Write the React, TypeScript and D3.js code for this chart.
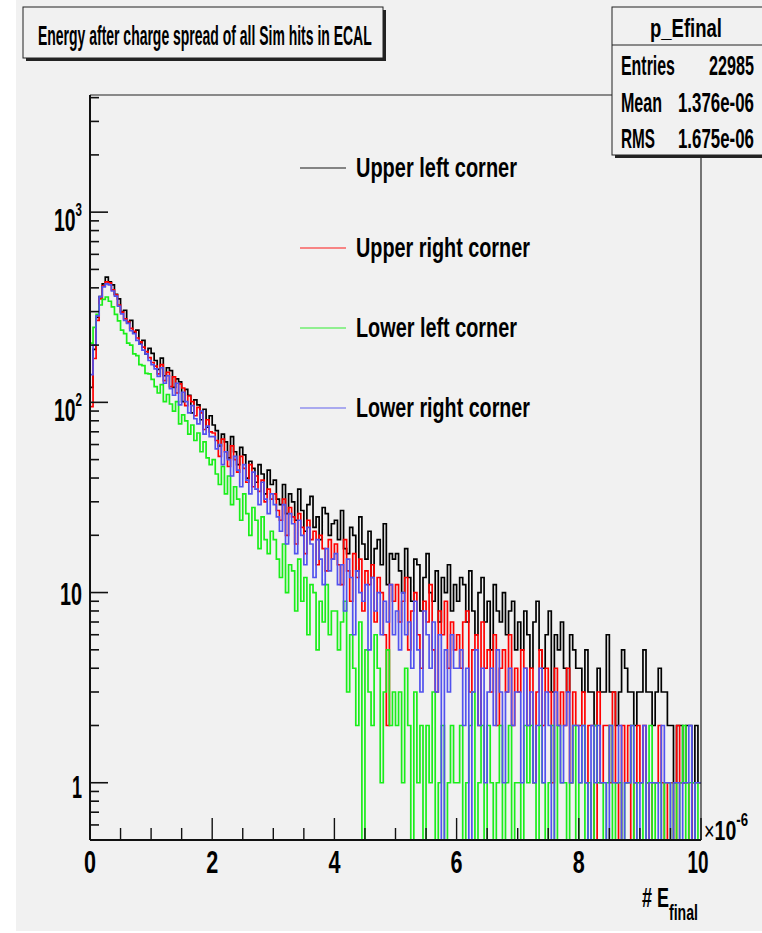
import React from 'react';
import * as d3 from 'd3';

// ---------------- DATA ----------------
const TITLE = 'Energy after charge spread of all Sim hits in ECAL';
const STATS_NAME = 'p_Efinal';
const STATS_LABELS = ['Entries', 'Mean', 'RMS'];
const STATS_VALUES = ['22985', '1.376e-06', '1.675e-06'];
const X_TICK_LABELS = [0, 2, 4, 6, 8, 10];
const Y_DECADES = [1, 10, 100, 1000];
const SERIES_NAMES = ['Upper left corner', 'Upper right corner', 'Lower left corner', 'Lower right corner'];
const SERIES_COLORS = ['#000000', '#ff0000', '#1aee1a', '#5252ee'];
const BIN_WIDTH = 0.05; // in units of 1e-6
const X_MIN = 0;
const X_MAX = 10;
const Y_MIN = 0.5;
const Y_MAX = 4130;

const upperLeft = [
  120, 190, 280, 360, 420, 455, 430, 415, 370, 350, 300, 305, 262, 270, 232, 240, 205, 212, 180, 192,
  181, 166, 149, 171, 138, 152, 147, 120, 133, 128, 101, 117, 109, 88, 103, 97, 81, 92, 74, 85,
  76, 71, 59, 68, 62, 51, 66, 55, 47, 58, 53, 40, 49, 45, 38, 47, 42, 33, 44, 37,
  39, 31, 29, 37, 26, 33, 30, 24, 35, 27, 21, 29, 32, 22, 25, 19, 28, 26, 20, 23,
  24, 19, 27, 17, 16, 22, 20, 13, 25, 18, 15, 21, 12, 17, 19, 14, 23, 11, 16, 15,
  16, 13, 10, 17, 12, 9, 15, 14, 8, 12, 16, 10, 9, 13, 7, 12, 10, 14, 8, 11,
  9, 12, 11, 7, 13, 8, 6, 10, 12, 7, 9, 5, 11, 8, 7, 10, 6, 8, 9, 5,
  7, 5, 8, 6, 4, 7, 9, 5, 4, 6, 8, 3, 6, 5, 7, 4, 3, 6, 5, 4,
  4, 3, 5, 3, 3, 2, 4, 3, 3, 6, 3, 3, 2, 3, 5, 4, 3, 3, 2, 3,
  3, 5, 3, 3, 2, 3, 4, 3, 3, 2, 2, 1, 2, 2, 1, 2, 2, 0, 2, 1,
];

const upperRight = [
  95, 170, 270, 350, 410, 430, 425, 390, 368, 325, 298, 275, 266, 245, 236, 218, 208, 195, 185, 172,
  162, 155, 141, 158, 130, 144, 121, 136, 112, 125, 119, 96, 108, 101, 85, 94, 88, 72, 81, 70,
  69, 63, 52, 64, 55, 46, 59, 50, 43, 52, 45, 38, 47, 36, 41, 34, 39, 30, 35, 31,
  33, 27, 24, 31, 20, 28, 25, 18, 26, 22, 16, 24, 19, 21, 14, 20, 17, 13, 19, 15,
  18, 14, 11, 19, 13, 9, 16, 12, 15, 8, 13, 11, 14, 7, 12, 10, 6, 2, 11, 9,
  11, 7, 9, 12, 5, 8, 10, 6, 4, 9, 7, 11, 5, 3, 8, 6, 9, 4, 7, 5,
  6, 4, 7, 8, 3, 5, 6, 2, 7, 4, 5, 3, 6, 2, 4, 5, 3, 6, 2, 4,
  3, 5, 4, 2, 4, 1, 3, 5, 2, 4, 3, 1, 4, 2, 3, 2, 4, 1, 3, 2,
  2, 3, 1, 2, 2, 0, 3, 1, 2, 2, 1, 3, 1, 0, 2, 1, 2, 0, 1, 2,
  1, 2, 1, 0, 1, 1, 2, 1, 0, 1, 1, 0, 2, 1, 1, 1, 0, 1, 1, 1,
];

const lowerLeft = [
  205, 248, 290, 325, 348, 358, 340, 318, 290, 268, 240, 230, 205, 200, 180, 176, 158, 156, 142, 141,
  132, 121, 112, 124, 101, 110, 98, 90, 101, 77, 86, 80, 68, 76, 63, 69, 55, 62, 51, 47,
  50, 42, 37, 46, 33, 41, 29, 36, 31, 24, 33, 26, 20, 28, 24, 17, 25, 19, 16, 21,
  19, 15, 12, 18, 10, 14, 13, 8, 15, 9, 12, 6, 11, 10, 5, 9, 7, 11, 6, 8,
  8, 5, 7, 9, 3, 6, 4, 2, 7, 0, 5, 3, 2, 6, 4, 1, 3, 5, 2, 3,
  2, 3, 1, 4, 2, 0, 3, 1, 2, 0, 2, 1, 3, 0, 1, 2, 0, 1, 2, 1,
  1, 2, 0, 1, 2, 3, 0, 1, 2, 0, 2, 1, 0, 1, 2, 0, 1, 2, 0, 1,
  1, 0, 2, 1, 2, 1, 0, 2, 1, 0, 1, 2, 0, 2, 1, 1, 0, 1, 2, 0,
  1, 2, 0, 1, 0, 2, 1, 1, 0, 1, 2, 0, 1, 1, 0, 1, 1, 2, 0, 1,
  1, 0, 1, 2, 0, 1, 1, 0, 1, 1, 0, 1, 0, 1, 2, 0, 1, 1, 0, 1,
];

const lowerRight = [
  140, 200, 285, 360, 405, 420, 415, 385, 362, 320, 292, 270, 260, 238, 230, 212, 202, 188, 180, 166,
  158, 150, 137, 152, 126, 138, 118, 109, 126, 97, 113, 101, 88, 96, 82, 77, 90, 68, 75, 66,
  66, 57, 60, 47, 55, 50, 41, 52, 44, 36, 47, 39, 33, 43, 35, 29, 38, 31, 26, 33,
  29, 25, 21, 29, 18, 26, 23, 16, 24, 20, 14, 22, 18, 12, 19, 15, 11, 17, 13, 15,
  16, 11, 14, 8, 15, 12, 6, 13, 10, 9, 11, 5, 12, 8, 10, 6, 9, 7, 11, 6,
  8, 5, 10, 6, 7, 4, 9, 5, 3, 8, 6, 4, 7, 3, 6, 0, 5, 3, 6, 4,
  4, 5, 2, 4, 0, 3, 5, 2, 4, 1, 3, 4, 2, 5, 3, 1, 3, 4, 2, 3,
  3, 1, 4, 2, 3, 1, 2, 4, 1, 3, 2, 0, 3, 2, 1, 2, 3, 1, 2, 2,
  1, 2, 1, 0, 2, 1, 2, 1, 1, 0, 2, 1, 1, 2, 0, 1, 1, 2, 1, 0,
  1, 2, 0, 1, 1, 1, 0, 2, 1, 1, 0, 1, 1, 0, 1, 1, 2, 0, 1, 1,
];

const SERIES = [upperLeft, upperRight, lowerLeft, lowerRight];

// ---------------- LAYOUT ----------------
const W = 762;
const H = 933;
const BG = '#f1f1f1';
const FONT = "'Liberation Sans', Arial, Helvetica, sans-serif";
const PLOT = { left: 90, right: 701, top: 95, bottom: 840 };

const xScale = d3.scaleLinear().domain([X_MIN, X_MAX]).range([PLOT.left, PLOT.right]);
const yScale = d3.scaleLog().domain([Y_MIN, Y_MAX]).range([PLOT.bottom, PLOT.top]);

function stepPath(vals: number[]): string {
  const pts: [number, number][] = [];
  vals.forEach((c, i) => {
    const y = c > 0 ? yScale(c) : yScale(Y_MIN) + 2;
    pts.push([xScale(i * BIN_WIDTH), y], [xScale((i + 1) * BIN_WIDTH), y]);
  });
  return d3.line()(pts) || '';
}

type TProps = {
  x: number; y: number; size: number; w?: number; anchor?: 'start' | 'middle' | 'end';
  weight?: string | number; children: React.ReactNode; fill?: string;
};
// Text squeezed horizontally (about its anchor) to a target width, like the condensed original.
function T({ x, y, size, w, anchor = 'start', weight = 'bold', children, fill = '#000' }: TProps) {
  const ref = React.useRef<SVGTextElement>(null);
  const [sx, setSx] = React.useState(1);
  React.useLayoutEffect(() => {
    if (!w || !ref.current) return;
    const nat = ref.current.getComputedTextLength();
    if (nat > 0) setSx(w / nat);
  }, [w]);
  return (
    <text
      ref={ref}
      x={x}
      y={y}
      fontSize={size}
      fontFamily={FONT}
      fontWeight={weight}
      textAnchor={anchor}
      fill={fill}
      transform={`translate(${x},0) scale(${sx},1) translate(${-x},0)`}
    >
      {children}
    </text>
  );
}

export default function App() {
  const yTicks: { v: number; major: boolean }[] = [];
  [0.1, 1, 10, 100, 1000].forEach((d) => {
    for (let k = 1; k <= 9; k++) {
      const v = d * k;
      if (v >= Y_MIN && v <= Y_MAX) yTicks.push({ v, major: k === 1 });
    }
  });
  const xMinor = d3.range(X_MIN, X_MAX + 0.001, 0.5);

  const legendY = [168, 248, 328, 408];
  const legendW = [161, 174, 161, 174];
  const statsY = [75, 112, 148];

  return (
    <svg width={W} height={H} style={{ position: 'absolute', left: 0, top: 0 }}>
      <rect x={0} y={0} width={W} height={H} fill="#ffffff" />
      <rect x={16} y={0} width={W - 16} height={931} fill={BG} />

      <defs>
        <clipPath id="plotclip">
          <rect x={PLOT.left} y={PLOT.top} width={PLOT.right - PLOT.left} height={PLOT.bottom - PLOT.top} />
        </clipPath>
      </defs>

      {/* histograms */}
      <g clipPath="url(#plotclip)">
        {SERIES.map((s, i) => (
          <path key={i} d={stepPath(s)} fill="none" stroke={SERIES_COLORS[i]} strokeWidth={1.7} />
        ))}
      </g>

      {/* frame */}
      <line x1={PLOT.left} x2={PLOT.right} y1={PLOT.top} y2={PLOT.top} stroke="#222" strokeWidth={1.2} />
      <line x1={PLOT.right} x2={PLOT.right} y1={PLOT.top} y2={PLOT.bottom} stroke="#222" strokeWidth={1.2} />
      <line x1={PLOT.left} x2={PLOT.left} y1={PLOT.top} y2={PLOT.bottom} stroke="#111" strokeWidth={2} />
      <line x1={PLOT.left} x2={PLOT.right} y1={PLOT.bottom} y2={PLOT.bottom} stroke="#111" strokeWidth={2} />

      {/* y ticks */}
      {yTicks.map((t, i) => (
        <line key={i} x1={PLOT.left} x2={PLOT.left + (t.major ? 18 : 9)} y1={yScale(t.v)} y2={yScale(t.v)} stroke="#111" strokeWidth={1.6} />
      ))}
      {/* x ticks */}
      {xMinor.map((v, i) => {
        const major = Math.abs(v / 2 - Math.round(v / 2)) < 1e-6;
        return <line key={i} x1={xScale(v)} x2={xScale(v)} y1={PLOT.bottom} y2={PLOT.bottom - (major ? 22 : 12)} stroke="#111" strokeWidth={1.4} />;
      })}

      {/* x labels */}
      {X_TICK_LABELS.map((v) => (
        <T key={v} x={xScale(v) - (v >= 10 ? 3 : 0)} y={873} size={32} anchor="middle" w={v >= 10 ? 21 : 12}>{String(v)}</T>
      ))}
      {/* x10^-6 */}
      <T x={704} y={840} size={28} w={44}>
        <tspan fontWeight="normal" fontSize={26}>×</tspan>10<tspan fontSize={19} dy={-14}>-6</tspan>
      </T>
      {/* x title */}
      <T x={642} y={907} size={28} w={56}>
        # E<tspan fontSize={22} dy={13}>final</tspan>
      </T>

      {/* y labels */}
      {Y_DECADES.map((v) => {
        const y = yScale(v);
        if (v === 1) return <T key={v} x={82} y={y + 15} size={32} anchor="end" w={10}>1</T>;
        if (v === 10) return <T key={v} x={82} y={y + 12} size={32} anchor="end" w={22}>10</T>;
        const exp = Math.round(Math.log10(v));
        return (
          <T key={v} x={54} y={y + 19} size={32} w={28}>
            10<tspan fontSize={19} dy={-15}>{String(exp)}</tspan>
          </T>
        );
      })}

      {/* legend */}
      {SERIES_NAMES.map((n, i) => (
        <g key={n}>
          <line x1={300} x2={346} y1={legendY[i]} y2={legendY[i]} stroke={SERIES_COLORS[i]} strokeWidth={1.5} opacity={0.6} />
          <T x={356} y={legendY[i] + 9.5} size={27} w={legendW[i]}>{n}</T>
        </g>
      ))}

      {/* title box */}
      <rect x={26} y={10} width={360} height={51} fill="#222" />
      <rect x={23} y={7} width={360} height={51} fill={BG} stroke="#222" strokeWidth={1} />
      <T x={38} y={45} size={28} w={334}>{TITLE}</T>

      {/* stats box */}
      <rect x={615} y={10} width={160} height={148} fill="#222" />
      <rect x={612} y={7} width={160} height={148} fill={BG} stroke="#222" strokeWidth={1} />
      <line x1={612} x2={762} y1={45} y2={45} stroke="#222" strokeWidth={1} />
      <T x={650} y={37} size={26} w={72}>{STATS_NAME}</T>
      {STATS_LABELS.map((l, i) => (
        <g key={l}>
          <T x={621} y={statsY[i]} size={27} w={[54, 41, 34][i]}>{l}</T>
          <T x={[709, 678, 678][i]} y={statsY[i]} size={27} w={[45, 76, 76][i]}>{STATS_VALUES[i]}</T>
        </g>
      ))}
    </svg>
  );
}
